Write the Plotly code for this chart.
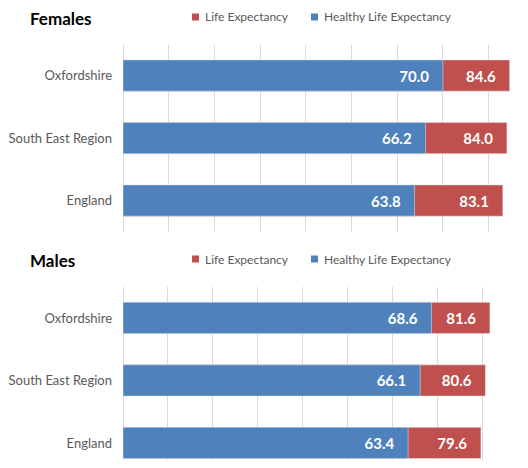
import plotly.graph_objects as go

categories = ["Oxfordshire", "South East Region", "England"]
female_le = [84.6, 84.0, 83.1]
female_hle = [70.0, 66.2, 63.8]
male_le = [81.6, 80.6, 79.6]
male_hle = [68.6, 66.1, 63.4]
panel_titles = ["Females", "Males"]
legend_names = ["Life Expectancy", "Healthy Life Expectancy"]

RED = "#C0504D"
BLUE = "#4F81BD"
GRID = "#D9D9D9"
GRAY = "#595959"
FONT = "Lato"
OFF = 8            # page body margin
W, H = 528 - 2 * OFF, 468 - 2 * OFF
PAD = "\u00a0" * 3  # extra right padding for labels inside bars


def px(xp):
    return (xp - OFF) / W


def py(yp):
    return 1 - (yp - OFF) / H


fig = go.Figure()


def add_panel(le, hle, xa, ya):
    for vals, name, color in [(le, legend_names[0], RED), (hle, legend_names[1], BLUE)]:
        fig.add_trace(go.Bar(
            y=categories, x=vals, orientation="h", name=name,
            marker=dict(color=color), width=0.5, xaxis=xa, yaxis=ya,
            texttemplate="%{x:.1f}" + PAD, textposition="inside", insidetextanchor="end",
            textfont=dict(color="white", size=15, family=FONT, weight="bold"),
            showlegend=False, hoverinfo="skip"))


add_panel(female_le, female_hle, "x", "y")
add_panel(male_le, male_hle, "x2", "y2")

left = 123
xcommon = dict(domain=[px(left), 1], dtick=10, tick0=0, showgrid=True, gridcolor=GRID,
               gridwidth=1, zeroline=True, zerolinecolor=GRID, zerolinewidth=1,
               showticklabels=False, ticks="", showline=False, fixedrange=True)
ycommon = dict(type="category", showgrid=False, zeroline=False, showline=False,
               ticks="", ticklabelstandoff=10,
               tickfont=dict(family=FONT, size=13, color=GRAY))

right_page = OFF + W
fig.update_layout(
    width=W, height=H,
    margin=dict(l=0, r=0, t=0, b=0),
    paper_bgcolor="white", plot_bgcolor="white",
    barmode="overlay",
    font=dict(family=FONT, color=GRAY),
    xaxis=dict(**xcommon, range=[0, (right_page - 123.3) / 4.567], anchor="y"),
    yaxis=dict(**ycommon, domain=[py(232), py(45)],
               range=[2 + (232 - 200.5) / 62.5, -(75.5 - 45) / 62.5], anchor="x"),
    xaxis2=dict(**xcommon, range=[0, (right_page - 122.7) / 4.5], anchor="y2"),
    yaxis2=dict(**ycommon, domain=[0, py(287)],
                range=[2 + (OFF + H - 443) / 62.5, -(318 - 287) / 62.5], anchor="x2"),
)

annotations = []
shapes = []
for title, ty, ly in [(panel_titles[0], 19, 17), (panel_titles[1], 260.5, 259)]:
    annotations.append(dict(text=f"<b>{title}</b>", x=px(28), y=py(ty), xref="paper", yref="paper",
                            xanchor="left", yanchor="middle", showarrow=False,
                            font=dict(family=FONT, size=17, color="black")))
    for name, color, sx, tx in [(legend_names[0], RED, 192, 203), (legend_names[1], BLUE, 311, 322)]:
        shapes.append(dict(type="rect", xref="paper", yref="paper",
                           x0=px(sx), x1=px(sx + 7), y0=py(ly + 3.5), y1=py(ly - 3.5),
                           fillcolor=color, line=dict(width=0)))
        annotations.append(dict(text=name, x=px(tx), y=py(ly), xref="paper", yref="paper",
                                xanchor="left", yanchor="middle", showarrow=False,
                                font=dict(family=FONT, size=12, color=GRAY)))
fig.update_layout(annotations=annotations, shapes=shapes)

fig.write_html("out.html")
